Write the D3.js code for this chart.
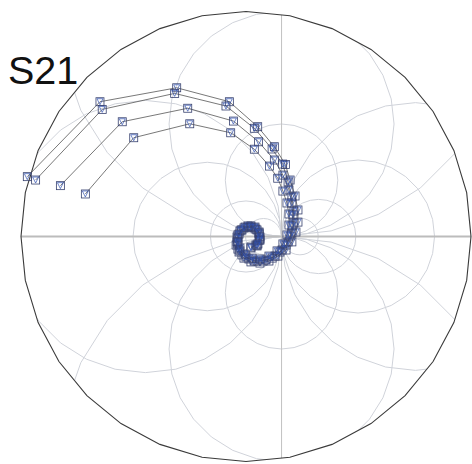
<!DOCTYPE html>
<html><head><meta charset="utf-8">
<script src="https://cdn.jsdelivr.net/npm/d3@7"></script>
<style>html,body{margin:0;padding:0;background:#fff;} svg{display:block}</style>
</head><body>
<svg id="chart" width="472" height="464"></svg>
<script>
const title = "S21";
// S21 traces: [re, im] (outer ring = magnitude 1)
const s1 = [[-0.972,0.266],[-0.649,0.599],[-0.308,0.661],[-0.074,0.599],[0.052,0.488],[0.126,0.399],[0.175,0.320],[0.196,0.251],[0.218,0.180],[0.231,0.118],[0.231,0.064],[0.222,0.020],[0.204,-0.024],[0.178,-0.060],[0.142,-0.087],[0.102,-0.109],[0.062,-0.118],[0.022,-0.113],[-0.009,-0.096],[-0.031,-0.069],[-0.044,-0.038],[-0.040,-0.002],[-0.027,0.024],[-0.004,0.042],[0.022,0.047],[0.044,0.033],[0.058,0.011],[0.058,-0.016],[0.044,-0.038],[0.022,-0.047]];
const s2 = [[-0.935,0.251],[-0.639,0.565],[-0.317,0.636],[-0.089,0.580],[0.037,0.481],[0.116,0.389],[0.163,0.322],[0.187,0.242],[0.204,0.176],[0.213,0.113],[0.213,0.060],[0.204,0.016],[0.187,-0.024],[0.160,-0.060],[0.129,-0.087],[0.089,-0.104],[0.049,-0.109],[0.013,-0.100],[-0.018,-0.082],[-0.036,-0.056],[-0.040,-0.024],[-0.036,0.007],[-0.018,0.029],[0.009,0.042],[0.036,0.038],[0.058,0.020],[0.062,-0.011],[0.049,-0.038],[0.022,-0.051]];
const s3 = [[-0.825,0.226],[-0.550,0.510],[-0.259,0.570],[-0.056,0.513],[0.056,0.421],[0.126,0.340],[0.164,0.273],[0.191,0.207],[0.204,0.149],[0.209,0.096],[0.204,0.047],[0.196,0.002],[0.178,-0.038],[0.151,-0.069],[0.116,-0.096],[0.076,-0.109],[0.036,-0.109],[0.000,-0.091],[-0.027,-0.064],[-0.036,-0.033],[-0.036,-0.007],[-0.022,0.029],[0.009,0.047],[0.040,0.042],[0.058,0.016],[0.062,-0.016],[0.049,-0.042]];
const s4 = [[-0.714,0.189],[-0.499,0.439],[-0.250,0.501],[-0.068,0.461],[0.037,0.388],[0.104,0.313],[0.141,0.259],[0.164,0.202],[0.182,0.149],[0.191,0.100],[0.191,0.051],[0.182,0.007],[0.164,-0.033],[0.138,-0.064],[0.102,-0.087],[0.062,-0.100],[0.027,-0.096],[-0.004,-0.078],[-0.027,-0.051],[-0.036,-0.024],[-0.031,0.011],[-0.009,0.038],[0.022,0.042],[0.049,0.029],[0.062,-0.002],[0.053,-0.033]];
const seriesList = [s1, s2, s3, s4];

// grid definition (chart units)
const gridPole = 0.158;
const realCirclesLeft = [0.16, 0.316, 0.66, 1.21];   // diameters, extending left of pole
const realCirclesRight = [0.163, 0.33, 0.68, 1.19];  // diameters, extending right of pole
const imagCircles = [0.5, 1.0, 1.98];                // diameters, above and below pole

const cx = 246, cy = 236.5, R = 225;
const x = d3.scaleLinear().domain([-1, 1]).range([cx - R, cx + R]);
const y = d3.scaleLinear().domain([-1, 1]).range([cy + R, cy - R]);
const svg = d3.select("#chart");

const nB = 32;
const borderPts = d3.range(nB).map(i => { const a = i * 2 * Math.PI / nB; return [x(Math.cos(a)), y(Math.sin(a))]; });
svg.append("defs").append("clipPath").attr("id", "clip")
  .append("polygon").attr("points", borderPts.map(p => p.join(",")).join(" "));

const grid = svg.append("g").attr("clip-path", "url(#clip)");
function circ(c0, c1, rad, a0, n) {
  const pts = d3.range(n + 1).map(i => { const a = a0 + i * 2 * Math.PI / n; return [x(c0 + rad * Math.cos(a)), y(c1 + rad * Math.sin(a))]; });
  return d3.line()(pts);
}
const gridColor = "#d0d3da";
realCirclesLeft.forEach(d => grid.append("path").attr("d", circ(gridPole - d / 2, 0, d / 2, 0, 28)).attr("fill", "none").attr("stroke", gridColor).attr("stroke-width", 1));
realCirclesRight.forEach(d => grid.append("path").attr("d", circ(gridPole + d / 2, 0, d / 2, Math.PI, 28)).attr("fill", "none").attr("stroke", gridColor).attr("stroke-width", 1));
imagCircles.forEach(d => {
  grid.append("path").attr("d", circ(gridPole, d / 2, d / 2, -Math.PI / 2, 28)).attr("fill", "none").attr("stroke", gridColor).attr("stroke-width", 1);
  grid.append("path").attr("d", circ(gridPole, -d / 2, d / 2, Math.PI / 2, 28)).attr("fill", "none").attr("stroke", gridColor).attr("stroke-width", 1);
});
grid.append("line").attr("x1", x(gridPole)).attr("x2", x(gridPole)).attr("y1", y(-1)).attr("y2", y(1)).attr("stroke", "#c2c2c2").attr("stroke-width", 1);
grid.append("line").attr("x1", x(-1)).attr("x2", x(1)).attr("y1", y(0)).attr("y2", y(0)).attr("stroke", "#bcbcbc").attr("stroke-width", 2);

svg.append("polygon").attr("points", borderPts.map(p => p.join(",")).join(" "))
  .attr("fill", "none").attr("stroke", "#3a3a3a").attr("stroke-width", 1.1);

const line = d3.line().x(d => x(d[0])).y(d => y(d[1]));
const dataG = svg.append("g");
seriesList.forEach(s => {
  dataG.append("path").attr("d", line(s)).attr("fill", "none").attr("stroke", "#555").attr("stroke-width", 0.8);
});
seriesList.forEach(s => {
  const m = dataG.append("g").selectAll("g").data(s).join("g")
    .attr("transform", d => `translate(${x(d[0])},${y(d[1])})`);
  m.append("rect").attr("x", -4).attr("y", -4).attr("width", 8).attr("height", 8)
    .attr("fill", "none").attr("stroke", "#36406e").attr("stroke-width", 0.8);
  m.append("path").attr("d", "M-3,-3L3,-3L0,3Z").attr("fill", "none").attr("stroke", "#2f50b0").attr("stroke-width", 0.7);
});

svg.append("text").attr("x", 8).attr("y", 83.5).text(title)
  .attr("font-family", "Liberation Sans, Arial, sans-serif").attr("font-size", 39.5).attr("fill", "#111");
</script>
</body></html>
